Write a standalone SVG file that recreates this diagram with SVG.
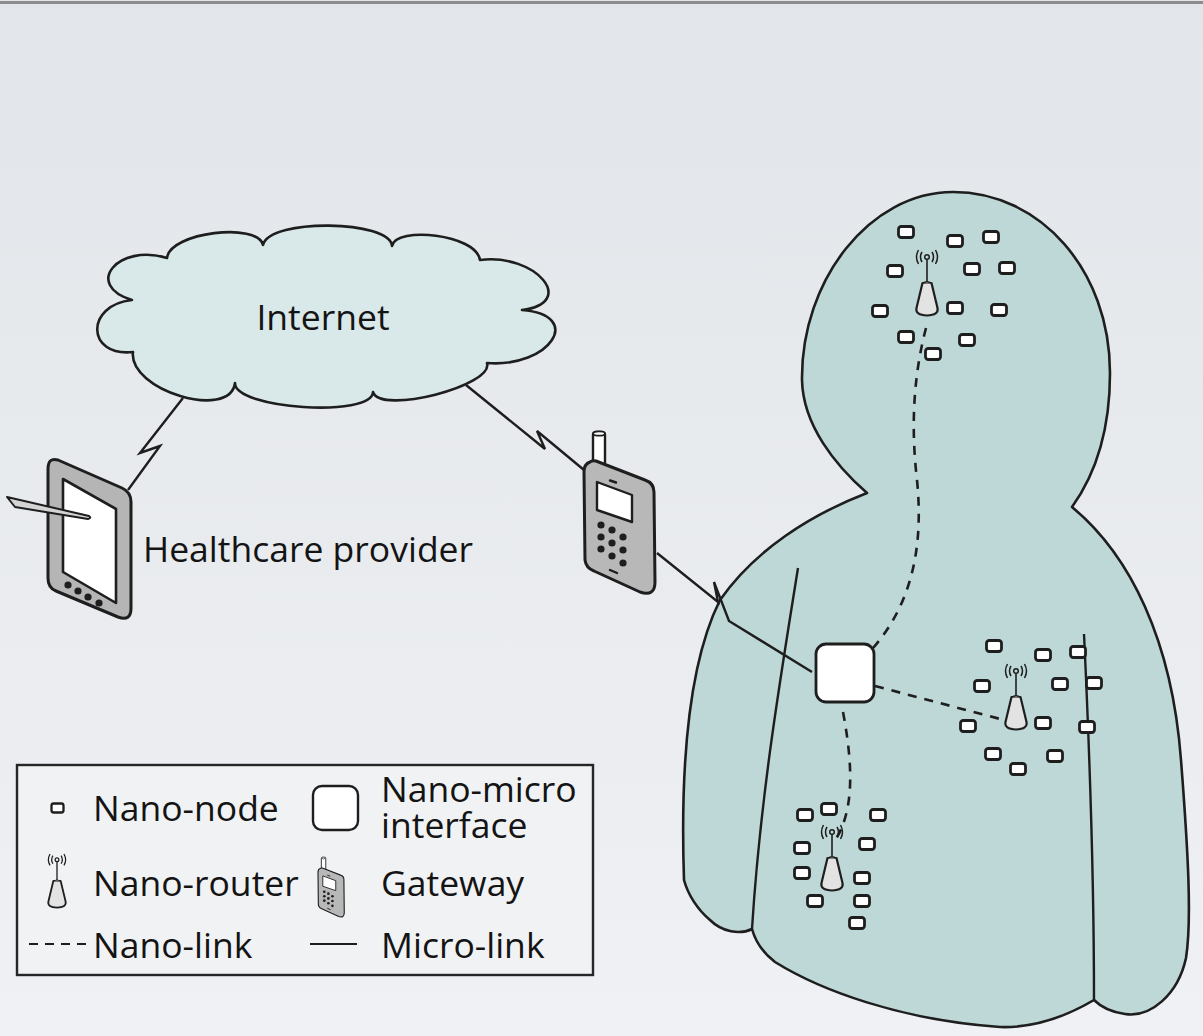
<svg xmlns="http://www.w3.org/2000/svg" xmlns:xlink="http://www.w3.org/1999/xlink" width="1203" height="1036" viewBox="0 0 1203 1036">
  <defs>
    <linearGradient id="bg" x1="0" y1="0" x2="0" y2="1">
      <stop offset="0" stop-color="#e2e5e9"/>
      <stop offset="1" stop-color="#eff1f4"/>
    </linearGradient>
    <!-- nano-node: small rounded box -->
    <rect id="node" x="-7.5" y="-5.5" width="15" height="11" rx="2.8" fill="#ffffff" stroke="#1e1e1e" stroke-width="2.8"/>
    <!-- nano-router: antenna with radio waves over a cone base (origin = top of cone) -->
    <g id="router">
      <line x1="0" y1="-24" x2="0" y2="0" stroke="#1e1e1e" stroke-width="1.6"/>
      <circle cx="0" cy="-26" r="2.3" fill="none" stroke="#1e1e1e" stroke-width="1.5"/>
      <path d="M -5,-31 Q -8,-26 -5,-21 M -8.5,-33 Q -12.5,-26 -8.5,-19 M 5,-31 Q 8,-26 5,-21 M 8.5,-33 Q 12.5,-26 8.5,-19" fill="none" stroke="#1e1e1e" stroke-width="1.5"/>
      <path d="M -4.5,0 L 4.5,0 L 10.5,25 Q 12,32 0,32.5 Q -12,32 -10.5,25 Z" fill="#e3e3e3" stroke="#1e1e1e" stroke-width="2.2" stroke-linejoin="round"/>
      <path d="M -4.5,0.5 Q 0,-3 4.5,0.5" fill="#cfcfcf" stroke="#1e1e1e" stroke-width="1.4"/>
    </g>
    <!-- gateway handset, local coordinates -->
    <g id="phone">
      <rect x="9" y="1" width="12" height="34" rx="3" fill="#ffffff" stroke="#1e1e1e" stroke-width="2.4"/>
      <ellipse cx="15" cy="2.5" rx="6" ry="2.2" fill="#ffffff" stroke="#1e1e1e" stroke-width="1.8"/>
      <path d="M 6,31 Q 0,33 0,41 L 1,129 Q 2,137 10,140 L 56,161 Q 71,166 71,151 L 70,61 Q 70,52 61,49 L 12,30 Q 8,29 6,31 Z" fill="#b8b8b8" stroke="#1e1e1e" stroke-width="3" stroke-linejoin="round"/>
      <path d="M 13,51 L 48,64 L 48,91 L 13,79 Z" fill="#ffffff" stroke="#1e1e1e" stroke-width="2.4" stroke-linejoin="round"/>
      <path d="M 26,49.5 L 32,51.5 M 26,139 L 33,142" stroke="#1e1e1e" stroke-width="2.4" stroke-linecap="round"/>
      <g fill="#1e1e1e">
        <circle cx="17" cy="94" r="3.6"/><circle cx="17" cy="106" r="3.6"/><circle cx="17" cy="118" r="3.6"/>
        <circle cx="28" cy="99" r="3.6"/><circle cx="28" cy="112" r="3.6"/><circle cx="28" cy="125" r="3.6"/>
        <circle cx="39" cy="106" r="3.6"/><circle cx="39" cy="119" r="3.6"/><circle cx="39" cy="132" r="3.6"/>
      </g>
    </g>
    <style>
      .lbl { font-family: "Open Sans", "Noto Sans", "Liberation Sans", sans-serif; fill: #141414; }
      .big { font-size: 35.5px; }
      .leg { font-size: 35.5px; }
      .outline { stroke: #1e1e1e; stroke-width: 2.6; stroke-linejoin: round; }
      .micro { fill: none; stroke: #1e1e1e; stroke-width: 2.4; stroke-linejoin: miter; }
      .nano { fill: none; stroke: #1e1e1e; stroke-width: 2.6; stroke-dasharray: 9 8; }
    </style>
  </defs>

  <!-- page background -->
  <rect x="0" y="0" width="1203" height="1036" fill="url(#bg)"/>
  <line x1="0" y1="2.5" x2="1203" y2="2.5" stroke="#8c8c8c" stroke-width="3"/>

  <!-- Internet cloud -->
  <g id="internet">
    <path class="outline" fill="#d9e9e9" d="M 167,258 C 170,232 258,222 263,245 C 270,218 390,220 392,246 C 396,226 476,234 480,260 C 536,253 578,303 522,310 C 585,315 550,368 487,363 C 494,386 380,415 373,392 C 372,418 234,409 235,383 C 230,421 128,390 133,352 C 86,357 85,305 132,300 C 83,285 118,243 167,258 Z"/>
    <text class="lbl big" x="323" y="330" text-anchor="middle">Internet</text>
  </g>

  <!-- human body -->
  <g id="body">
    <path class="outline" fill="#bdd8d6" d="M 867,493 C 835,465 803,425 802,380 C 801,280 870,192 953,192 C 1040,192 1110,270 1110,373 C 1110,430 1095,475 1072,507 C 1130,555 1172,640 1181,760 C 1188,850 1192,920 1186,958 C 1178,995 1150,1018 1125,1014 C 1110,1012 1100,1006 1094,1000 C 1060,1020 1030,1028 1000,1027 C 900,1020 820,990 775,962 C 762,952 755,940 752,929 C 740,935 722,932 710,920 C 698,910 688,895 684,880 C 680,760 690,660 720,600 C 755,550 810,515 867,493 Z"/>
    <path class="micro" d="M 798,568 C 780,680 760,800 752,929"/>
    <path class="micro" d="M 1084,634 C 1090,760 1094,880 1094,1000"/>
  </g>

  <!-- links -->
  <g id="connectors">
    <polyline class="micro" points="183,398 140,453 160,446 128,490"/>
    <polyline class="micro" points="466,385 545,449 537,431 584,470"/>
    <polyline class="micro" points="657,553 718,602 714,582 729,621 812,672"/>
    <path class="nano" d="M 926,328 C 915,370 910,420 917,480 C 923,540 915,600 873,648"/>
    <path class="nano" d="M 875,686 L 1004,720"/>
    <path class="nano" d="M 843,712 C 852,760 856,810 834,842"/>
  </g>

  <!-- nano-micro interface -->
  <g id="interface">
    <rect x="816" y="644" width="58" height="58" rx="10" fill="#ffffff" stroke="#1e1e1e" stroke-width="2.8"/>
  </g>

  <!-- head cluster -->
  <g id="head-cluster">
    <use href="#node" x="906" y="232"/><use href="#node" x="955" y="241"/><use href="#node" x="991" y="237"/>
    <use href="#node" x="895" y="271"/><use href="#node" x="972" y="269"/><use href="#node" x="1007" y="268"/>
    <use href="#node" x="880" y="311"/><use href="#node" x="955" y="308"/><use href="#node" x="999" y="310"/>
    <use href="#node" x="906" y="337"/><use href="#node" x="967" y="340"/><use href="#node" x="933" y="354"/>
    <use href="#router" x="927" y="283"/>
  </g>

  <!-- chest cluster -->
  <g id="chest-cluster">
    <use href="#node" x="994" y="646"/><use href="#node" x="1043" y="655"/><use href="#node" x="1078" y="652"/>
    <use href="#node" x="982" y="686"/><use href="#node" x="1060" y="684"/><use href="#node" x="1094" y="683"/>
    <use href="#node" x="968" y="726"/><use href="#node" x="1043" y="723"/><use href="#node" x="1087" y="727"/>
    <use href="#node" x="993" y="754"/><use href="#node" x="1055" y="756"/><use href="#node" x="1018" y="769"/>
    <use href="#router" x="1016" y="697"/>
  </g>

  <!-- abdomen cluster -->
  <g id="abdomen-cluster">
    <use href="#node" x="829" y="809"/><use href="#node" x="805" y="815"/><use href="#node" x="878" y="815"/>
    <use href="#node" x="802" y="848"/><use href="#node" x="867" y="844"/>
    <use href="#node" x="802" y="873"/><use href="#node" x="862" y="878"/>
    <use href="#node" x="815" y="901"/><use href="#node" x="862" y="901"/><use href="#node" x="857" y="923"/>
    <use href="#router" x="832" y="858"/>
  </g>

  <!-- gateway handset -->
  <g id="gateway">
    <use href="#phone" x="584" y="431"/>
  </g>

  <!-- healthcare provider tablet -->
  <g id="healthcare-provider">
    <path d="M 58,460 L 122,488 Q 131,492 131,502 L 131,608 Q 131,622 118,617 L 56,591 Q 48,588 48,578 L 48,469 Q 48,457 58,460 Z" fill="#b5b5b5" stroke="#1e1e1e" stroke-width="3" stroke-linejoin="round"/>
    <path d="M 63,479 L 116,509 L 116,603 L 63,572 Z" fill="#ffffff" stroke="#1e1e1e" stroke-width="2.6" stroke-linejoin="round"/>
    <g fill="#1e1e1e">
      <circle cx="68" cy="585" r="3.6"/><circle cx="78" cy="591" r="3.6"/><circle cx="88" cy="597" r="3.6"/><circle cx="99" cy="603" r="3.6"/>
    </g>
    <path d="M 7,497 L 89,516 Q 92,518 88,519 L 15,507 Z" fill="#d4d4d4" stroke="#1e1e1e" stroke-width="2" stroke-linejoin="round"/>
    <text class="lbl big" x="143" y="562">Healthcare provider</text>
  </g>

  <!-- legend -->
  <g id="legend">
    <rect x="17" y="765" width="576" height="210" fill="#f1f2f4" stroke="#262626" stroke-width="2.4"/>
    <rect x="51.5" y="803.5" width="12" height="9" rx="2.2" fill="#ffffff" stroke="#1e1e1e" stroke-width="2.3"/>
    <text class="lbl leg" x="93" y="821">Nano-node</text>
    <rect x="313" y="786" width="45" height="44" rx="9" fill="#ffffff" stroke="#1e1e1e" stroke-width="2.4"/>
    <text class="lbl leg" x="381" y="802">Nano-micro<tspan x="381" dy="36">interface</tspan></text>
    <use href="#router" transform="translate(57,881) scale(0.82)"/>
    <text class="lbl leg" x="93" y="896">Nano-router</text>
    <use href="#phone" transform="translate(318,857) scale(0.37)"/>
    <text class="lbl leg" x="381" y="896">Gateway</text>
    <line x1="29" y1="944" x2="86" y2="944" stroke="#1e1e1e" stroke-width="2.2" stroke-dasharray="9 7"/>
    <text class="lbl leg" x="93" y="958">Nano-link</text>
    <line x1="310" y1="944" x2="357" y2="944" stroke="#1e1e1e" stroke-width="2.2"/>
    <text class="lbl leg" x="381" y="958">Micro-link</text>
  </g>
</svg>
